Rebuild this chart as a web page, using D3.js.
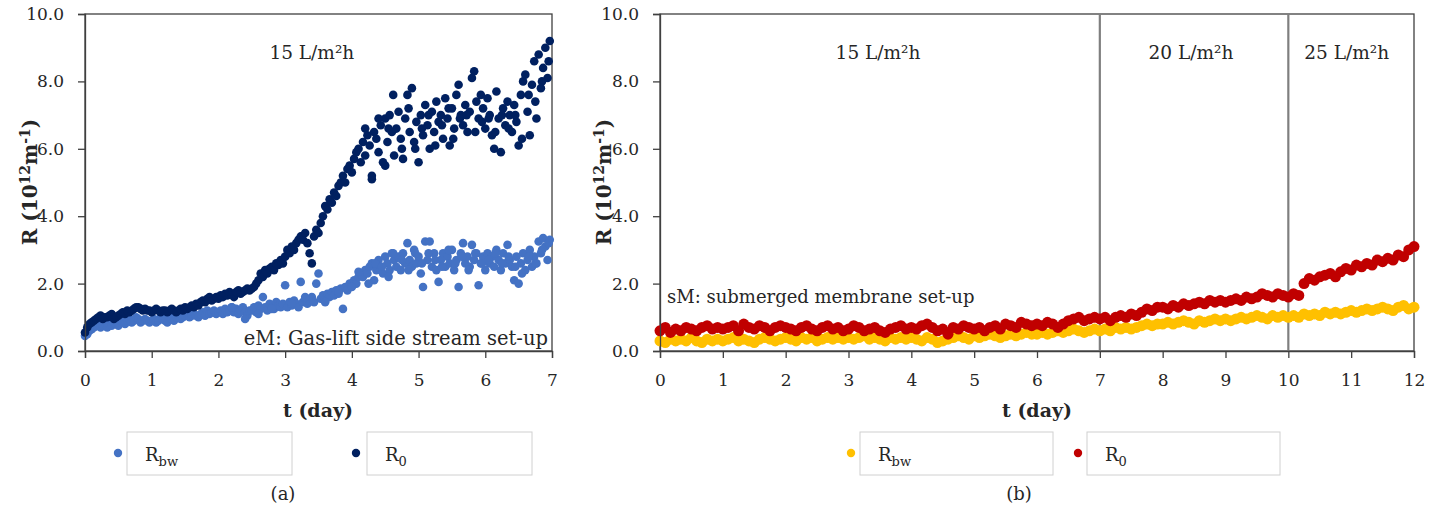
<!DOCTYPE html>
<html><head><meta charset="utf-8">
<script src="https://cdn.jsdelivr.net/npm/d3@7"></script>
<style>
body{margin:0;background:#fff;}
svg{display:block;}
text{font-family:"DejaVu Serif",serif;fill:#262626;}
</style></head>
<body><svg id="c" width="1443" height="515"></svg>
<script>
// ---------- DATA ----------
// Panel (a): eM gas-lift side stream, sampled every 1/30 day
const tStepA = 1/30;
const aRbw = [0.45,0.5,0.6,0.65,0.7,0.75,0.8,0.7,0.75,0.8,
0.7,0.8,0.75,0.85,0.8,0.75,0.9,0.85,0.8,0.9,0.95,0.85,0.9,1.0,0.95,0.85,0.9,0.95,0.9,0.85,
0.9,0.95,0.85,0.9,1.0,0.95,0.9,0.85,1.0,0.95,0.9,1.0,1.05,0.95,1.0,1.05,1.1,1.0,1.05,1.1,
1.05,1.0,1.1,1.15,1.05,1.2,1.1,1.15,1.2,1.1,1.15,1.2,1.1,1.25,1.15,1.2,1.3,1.15,1.25,1.1,1.2,1.3,1.15,1.05,1.2,
1.2,1.3,1.15,1.35,1.25,1.6,1.3,1.2,1.4,1.3,1.25,1.45,1.35,1.3,1.4,1.95,1.3,1.45,1.35,1.5,1.4,1.3,2.05,1.45,1.55,1.4,1.5,1.6,1.45,2.0,
2.3,1.55,1.65,1.5,1.7,1.6,1.75,1.65,1.8,1.7,1.85,1.25,1.9,1.8,2.0,1.95,2.1,2.0,2.2,2.3,
2.2,2.4,2.3,2.5,2.6,2.1,2.4,2.7,2.5,2.3,2.8,2.6,2.4,2.9,2.7,
2.5,2.8,2.4,2.9,2.6,3.2,2.7,2.5,3.0,2.6,
2.8,2.3,1.9,3.25,2.7,3.25,2.5,2.9,2.4,2.05,
2.7,2.9,2.5,2.8,2.6,3.0,2.4,2.7,1.9,2.9,
3.2,2.6,2.8,2.5,3.15,2.7,2.9,1.95,2.6,2.8,
2.4,2.9,2.6,2.8,2.5,3.0,2.7,2.4,2.9,2.6,
3.15,2.7,2.5,2.1,2.8,2.0,2.6,2.9,2.4,2.7,
3.0,2.5,2.8,2.6,3.25,2.9,3.35,3.1,2.7,3.3];
// extra scattered Rbw readings in panel (a): [day, value]
const aRbwExtra = [[2.2,1.3],[2.4,0.95],[2.6,1.1],[2.8,1.25],[3.1,1.4],[3.3,1.6],[3.6,1.45],[3.8,1.75],[4.0,1.9],
[4.1,2.35],[4.25,2.0],[4.35,2.6],[4.45,2.5],[4.55,2.2],[4.62,2.9],[4.75,2.7],[4.85,2.4],[4.95,2.9],[5.05,2.6],
[5.15,2.9],[5.25,2.7],[5.35,2.5],[5.45,3.0],[5.55,2.6],[5.65,2.8],[5.75,2.4],[5.85,2.9],[5.95,2.6],[6.05,2.7],
[6.15,2.9],[6.25,2.6],[6.35,2.8],[6.45,2.5],[6.55,2.3],[6.65,2.8],[6.75,2.6],[6.85,3.0],[6.95,3.2]];
const aR0 = [0.55,0.7,0.8,0.85,0.9,0.95,1.0,1.05,0.95,1.0,
1.0,1.05,1.1,0.95,1.0,1.05,1.1,1.15,1.1,1.2,1.15,1.2,1.25,1.3,1.3,1.25,1.2,1.25,1.2,1.2,
1.15,1.2,1.25,1.2,1.15,1.2,1.2,1.15,1.2,1.25,1.2,1.15,1.2,1.25,1.2,1.3,1.25,1.3,1.35,1.3,
1.4,1.35,1.45,1.5,1.45,1.55,1.6,1.5,1.55,1.6,
1.55,1.65,1.6,1.7,1.65,1.75,1.7,1.6,1.75,1.8,1.7,1.75,1.8,1.85,1.8,
1.85,1.9,2.0,2.1,2.3,2.2,2.4,2.3,2.45,2.5,2.4,2.6,2.55,2.7,2.6,
2.8,3.0,2.9,3.1,3.0,3.2,3.3,3.4,3.3,3.5,3.2,2.9,2.6,
3.4,3.6,3.5,3.8,4.0,4.3,4.2,4.5,4.4,4.7,4.6,4.9,5.0,5.2,5.0,5.4,5.5,5.3,5.7,5.9,
6.0,5.6,6.2,5.8,6.4,6.1,5.1,6.5,6.3,5.9,6.7,5.6,6.9,6.2,7.0,6.5,5.8,
6.6,7.1,6.3,5.7,6.9,7.6,6.5,7.8,6.2,6.8,
5.6,7.0,6.4,7.3,6.7,6.0,7.1,6.5,7.4,6.8,
7.0,6.3,7.5,6.9,6.1,7.2,6.6,7.6,7.9,7.0,
6.7,7.3,6.5,7.1,8.1,8.3,7.4,6.9,7.6,7.2,
6.6,7.5,7.0,6.4,6.0,7.7,6.9,5.9,7.2,6.7,
7.4,7.0,6.5,7.3,6.8,6.1,7.6,8.0,8.2,7.1,
6.4,7.9,8.6,6.9,8.8,7.8,8.4,9.0,8.1,9.2];
// extra scattered R0 readings in the unstable phase of panel (a): [day, value]
const aR0extra = [[4.2,6.6],[4.3,5.2],[4.4,6.9],[4.5,5.5],[4.55,6.6],[4.62,7.6],[4.75,6.0],[4.85,7.2],[4.95,6.0],
[5.05,6.6],[5.15,7.0],[5.25,6.1],[5.35,6.7],[5.45,7.2],[5.52,6.3],[5.62,6.9],[5.72,7.0],[5.85,6.5],[5.95,6.8],
[6.05,6.9],[6.15,6.5],[6.25,7.0],[6.35,6.6],[6.45,7.0],[6.55,6.3],[6.65,7.6],[6.75,7.4],[6.85,8.0],[6.95,8.6]];

// Panel (b): sM submerged membrane, sampled every 1/12 day
const tStepB = 1/12;
const bRbw = [0.3,0.25,0.35,0.3,0.35,0.3,0.4,0.3,0.25,0.35,0.3,0.35,
0.3,0.35,0.4,0.3,0.35,0.3,0.25,0.35,0.4,0.35,0.3,0.35,
0.4,0.35,0.3,0.4,0.35,0.4,0.3,0.35,0.4,0.35,0.4,0.35,
0.4,0.35,0.4,0.45,0.35,0.4,0.35,0.3,0.4,0.35,0.4,0.35,
0.4,0.35,0.3,0.4,0.35,0.25,0.3,0.35,0.4,0.45,0.4,0.35,
0.45,0.4,0.45,0.5,0.45,0.4,0.45,0.5,0.45,0.5,0.55,0.5,
0.5,0.55,0.5,0.55,0.6,0.55,0.6,0.65,0.6,0.55,0.6,0.65,
0.6,0.65,0.6,0.7,0.65,0.7,0.65,0.7,0.75,0.8,0.75,0.8,
0.8,0.85,0.8,0.85,0.9,0.85,0.8,0.9,0.85,0.9,0.95,0.9,
0.95,0.9,0.95,1.0,0.95,1.0,1.05,1.0,0.95,1.05,1.0,1.05,
1.0,1.05,1.0,1.1,1.05,1.1,1.05,1.15,1.1,1.15,1.1,1.15,
1.2,1.15,1.2,1.25,1.2,1.25,1.3,1.25,1.2,1.3,1.35,1.25,1.3];
const bR0 = [0.6,0.7,0.55,0.65,0.6,0.7,0.65,0.6,0.7,0.75,0.65,0.7,
0.65,0.7,0.75,0.6,0.8,0.7,0.65,0.75,0.7,0.6,0.7,0.75,
0.7,0.65,0.6,0.7,0.75,0.65,0.6,0.7,0.75,0.65,0.7,0.6,
0.65,0.75,0.7,0.6,0.65,0.7,0.6,0.55,0.65,0.7,0.75,0.65,
0.7,0.65,0.75,0.8,0.7,0.6,0.65,0.5,0.7,0.65,0.75,0.7,
0.65,0.7,0.6,0.7,0.75,0.65,0.8,0.75,0.7,0.85,0.8,0.75,
0.8,0.75,0.85,0.8,0.7,0.8,0.9,0.95,1.0,0.9,0.95,1.0,
0.95,1.0,0.9,1.0,1.05,1.0,1.1,1.05,1.15,1.25,1.2,1.3,
1.3,1.25,1.35,1.3,1.4,1.35,1.4,1.45,1.4,1.5,1.45,1.5,
1.45,1.5,1.55,1.5,1.6,1.55,1.6,1.7,1.65,1.6,1.7,1.65,
1.6,1.7,1.65,2.0,2.15,2.1,2.2,2.25,2.3,2.2,2.35,2.45,
2.4,2.55,2.5,2.6,2.55,2.7,2.65,2.75,2.7,2.85,2.8,3.0,3.1];

const yTicks = [0,2,4,6,8,10];
const xTicksA = [0,1,2,3,4,5,6,7];
const xTicksB = [0,1,2,3,4,5,6,7,8,9,10,11,12];
const fluxA = [{x:3.4, label:"15 L/m²h"}];
const fluxB = [{x:3.47, label:"15 L/m²h"},{x:8.45, label:"20 L/m²h"},{x:10.93, label:"25 L/m²h"}];
const fluxChanges = [7,10];
const seriesNames = ["Rbw","R0"];
const colorsA = ["#4472C4","#002060"];
const colorsB = ["#FFC000","#C00000"];

// ---------- DRAW ----------
const svg = d3.select("#c");
const FS = 17;

function panel(o){
  const g = svg.append("g");
  const x = d3.scaleLinear().domain(o.xDomain).range([o.x0,o.x1]);
  const y = d3.scaleLinear().domain([0,10]).range([o.y0,o.y1]);
  g.append("rect").attr("x",o.x0).attr("y",o.y1).attr("width",o.x1-o.x0).attr("height",o.y0-o.y1)
    .attr("fill","none").attr("stroke","#404040").attr("stroke-width",1.3);
  (o.vlines||[]).forEach(v=>{
    g.append("line").attr("x1",x(v)).attr("x2",x(v)).attr("y1",o.y1).attr("y2",o.y0)
      .attr("stroke","#7f7f7f").attr("stroke-width",2.2);
  });
  o.series.forEach((s,si)=>{
    const pts = s.values.map((v,i)=>[i*o.step,v]).concat(s.extra||[]);
    g.append("g").selectAll("circle").data(pts).join("circle")
      .attr("cx",d=>x(d[0])).attr("cy",d=>y(d[1])).attr("r",o.r)
      .attr("fill",s.color);
  });
  const ya = g.append("g").attr("transform",`translate(${o.x0},0)`)
    .call(d3.axisLeft(y).tickValues(yTicks).tickFormat(d3.format(".1f")).tickSize(7).tickPadding(14));
  const xa = g.append("g").attr("transform",`translate(0,${o.y0})`)
    .call(d3.axisBottom(x).tickValues(o.xTicks).tickFormat(d3.format("d")).tickSize(7).tickPadding(16));
  [ya,xa].forEach(a=>{
    a.select(".domain").attr("stroke","#404040").attr("stroke-width",1.3);
    a.selectAll(".tick line").attr("stroke","#404040").attr("stroke-width",1.3);
    a.selectAll("text").attr("font-family","DejaVu Serif").attr("font-size",FS).attr("fill","#262626");
  });
  o.flux.forEach(f=>{
    g.append("text").attr("x",x(f.x)).attr("y",59).attr("text-anchor","middle")
      .attr("font-size",18.5).text(f.label);
  });
  g.append("text").attr("x",o.noteX).attr("y",o.noteY).attr("text-anchor",o.noteAnchor)
    .attr("font-size",o.noteFS).text(o.note);
  g.append("text").attr("x",o.xTitleX).attr("y",417).attr("text-anchor","middle")
    .attr("font-size",19).attr("font-weight","bold").text("t (day)");
  const yt = g.append("text").attr("transform",`translate(${o.yTitleX},182) rotate(-90)`)
    .attr("text-anchor","middle").attr("font-size",20).attr("font-weight","bold");
  yt.append("tspan").text("R (10");
  yt.append("tspan").attr("dy",-7).attr("font-size",14).text("12");
  yt.append("tspan").attr("dy",7).text("m");
  yt.append("tspan").attr("dy",-7).attr("font-size",14).text("-1");
  yt.append("tspan").attr("dy",7).text(")");
  o.legend.forEach((L,i)=>{
    const s = o.series[i];
    g.append("circle").attr("cx",L.mx).attr("cy",453).attr("r",4.2).attr("fill",s.color);
    g.append("rect").attr("x",L.bx).attr("y",432).attr("width",L.bw).attr("height",43)
      .attr("fill","none").attr("stroke","#d0d0d0").attr("stroke-width",1);
    const t = g.append("text").attr("x",L.bx+18).attr("y",461).attr("font-size",18);
    t.append("tspan").text("R");
    t.append("tspan").attr("dy",5).attr("font-size",13).text(s.name.slice(1));
  });
  g.append("text").attr("x",o.capX).attr("y",500).attr("text-anchor","middle")
    .attr("font-size",18).text(o.cap);
}

panel({xDomain:[0,7], x0:85, x1:552, y0:351, y1:14, step:tStepA, xTicks:xTicksA, r:4.3,
  series:[{name:seriesNames[0],values:aRbw,extra:aRbwExtra,color:colorsA[0]},{name:seriesNames[1],values:aR0,extra:aR0extra,color:colorsA[1]}],
  flux:fluxA, note:"eM: Gas-lift side stream set-up", noteX:548, noteY:345, noteAnchor:"end", noteFS:19.5,
  xTitleX:318, yTitleX:37,
  legend:[{mx:118,bx:127,bw:165},{mx:356,bx:367,bw:165}], capX:283, cap:"(a)"});

panel({xDomain:[0,12], x0:660, x1:1414, y0:351, y1:14, step:tStepB, xTicks:xTicksB, vlines:fluxChanges, r:5.5,
  series:[{name:seriesNames[0],values:bRbw,color:colorsB[0]},{name:seriesNames[1],values:bR0,color:colorsB[1]}],
  flux:fluxB, note:"sM: submerged membrane set-up", noteX:667, noteY:303, noteAnchor:"start", noteFS:18,
  xTitleX:1037, yTitleX:611,
  legend:[{mx:851,bx:860,bw:193},{mx:1078,bx:1087,bw:193}], capX:1019, cap:"(b)"});
</script></body></html>
